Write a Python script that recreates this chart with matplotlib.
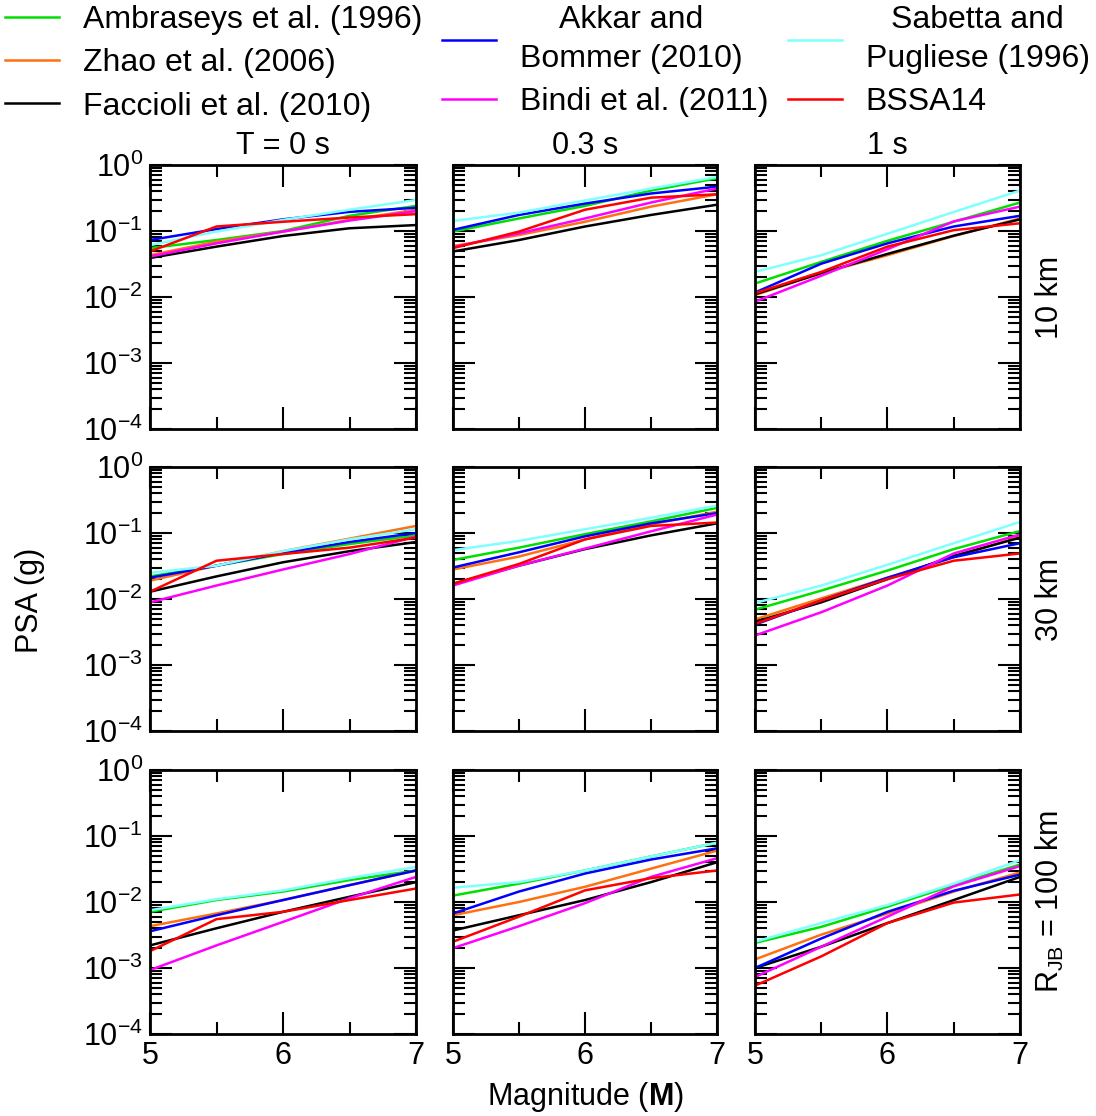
import matplotlib
matplotlib.use("Agg")
import matplotlib.pyplot as plt
from matplotlib.ticker import LogLocator, FixedLocator, NullFormatter, LogFormatterMathtext
import numpy as np

plt.rcParams['font.family'] = 'Liberation Sans'
plt.rcParams['mathtext.fontset'] = 'custom'
plt.rcParams['mathtext.rm'] = 'Liberation Sans'
plt.rcParams['mathtext.it'] = 'Liberation Sans:italic'
plt.rcParams['mathtext.bf'] = 'Liberation Sans:bold'

# magnitudes at which each curve was read
mags = [5, 5.5, 6, 6.5, 7]

# PSA (g) per panel: rows 10, 30, 100 km ; columns T = 0, 0.3, 1 s
ambraseys = [[0.055, 0.073, 0.10, 0.17, 0.24],
             [0.098, 0.155, 0.24, 0.41, 0.63],
             [0.016, 0.034, 0.071, 0.138, 0.27],
             [0.022, 0.032, 0.048, 0.068, 0.092],
             [0.039, 0.06, 0.096, 0.15, 0.24],
             [0.0069, 0.0134, 0.027, 0.057, 0.107],
             [0.0071, 0.0107, 0.0144, 0.0215, 0.030],
             [0.0125, 0.019, 0.03, 0.049, 0.079],
             [0.0024, 0.0042, 0.0085, 0.018, 0.037]]
zhao = [[0.043, 0.069, 0.098, 0.147, 0.21],
        [0.059, 0.087, 0.138, 0.234, 0.36],
        [0.0107, 0.023, 0.043, 0.084, 0.155],
        [0.019, 0.032, 0.053, 0.082, 0.128],
        [0.028, 0.044, 0.08, 0.135, 0.21],
        [0.0049, 0.0102, 0.021, 0.043, 0.088],
        [0.0043, 0.0067, 0.0107, 0.018, 0.030],
        [0.0063, 0.010, 0.017, 0.032, 0.060],
        [0.00135, 0.0032, 0.0067, 0.0144, 0.028]]
faccioli = [[0.039, 0.058, 0.084, 0.11, 0.123],
            [0.049, 0.073, 0.117, 0.175, 0.25],
            [0.011, 0.023, 0.045, 0.085, 0.15],
            [0.0129, 0.022, 0.036, 0.053, 0.073],
            [0.017, 0.032, 0.057, 0.092, 0.14],
            [0.0045, 0.0089, 0.020, 0.045, 0.085],
            [0.0022, 0.004, 0.0071, 0.012, 0.020],
            [0.0037, 0.0063, 0.0107, 0.020, 0.040],
            [0.001, 0.0021, 0.0048, 0.0107, 0.024]]
akkar = [[0.073, 0.107, 0.15, 0.195, 0.225],
         [0.104, 0.175, 0.26, 0.37, 0.47],
         [0.0117, 0.032, 0.065, 0.117, 0.17],
         [0.021, 0.032, 0.05, 0.073, 0.10],
         [0.030, 0.051, 0.089, 0.14, 0.20],
         [0.0041, 0.0095, 0.021, 0.043, 0.07],
         [0.0036, 0.0063, 0.0107, 0.018, 0.030],
         [0.0067, 0.0144, 0.027, 0.044, 0.065],
         [0.001, 0.0028, 0.0071, 0.0148, 0.026]]
bindi = [[0.041, 0.065, 0.098, 0.144, 0.20],
         [0.057, 0.092, 0.155, 0.27, 0.44],
         [0.0085, 0.021, 0.053, 0.14, 0.234],
         [0.0089, 0.016, 0.028, 0.048, 0.088],
         [0.016, 0.032, 0.058, 0.106, 0.19],
         [0.0028, 0.0063, 0.016, 0.049, 0.095],
         [0.00093, 0.0022, 0.005, 0.0114, 0.024],
         [0.002, 0.0043, 0.0096, 0.024, 0.046],
         [0.00073, 0.0021, 0.006, 0.0173, 0.035]]
sabetta = [[0.061, 0.098, 0.147, 0.21, 0.295],
           [0.142, 0.19, 0.29, 0.44, 0.66],
           [0.024, 0.043, 0.091, 0.194, 0.41],
           [0.025, 0.032, 0.053, 0.08, 0.114],
           [0.055, 0.076, 0.114, 0.17, 0.26],
           [0.0087, 0.016, 0.033, 0.07, 0.147],
           [0.0075, 0.011, 0.015, 0.023, 0.034],
           [0.0165, 0.020, 0.030, 0.049, 0.079],
           [0.0025, 0.0048, 0.009, 0.019, 0.043]]
bssa14 = [[0.049, 0.117, 0.138, 0.16, 0.18],
          [0.055, 0.098, 0.21, 0.32, 0.36],
          [0.0114, 0.024, 0.058, 0.103, 0.131],
          [0.0129, 0.038, 0.048, 0.06, 0.085],
          [0.017, 0.034, 0.08, 0.128, 0.144],
          [0.0042, 0.0095, 0.02, 0.038, 0.049],
          [0.0018, 0.0055, 0.0071, 0.0107, 0.016],
          [0.0025, 0.006, 0.015, 0.023, 0.030],
          [0.00054, 0.0015, 0.0048, 0.0098, 0.013]]

models = [ambraseys, zhao, faccioli, akkar, bindi, sabetta, bssa14]
names = ["Ambraseys et al. (1996)", "Zhao et al. (2006)", "Faccioli et al. (2010)",
         "Akkar and\nBommer (2010)", "Bindi et al. (2011)",
         "Sabetta and\nPugliese (1996)", "BSSA14"]
colors = ["#00e000", "#ff7010", "#000000", "#0000ff", "#ff00ff", "#80ffff", "#ff0000"]

col_titles = ["T = 0 s", "0.3 s", "1 s"]
row_titles = ["10 km", "30 km", r"R$_{\mathregular{JB}}$ = 100 km"]

W, H = 1096, 1116
fig = plt.figure(figsize=(W / 100, H / 100), dpi=100)

lefts = [150, 453, 755]
widths = [266, 264, 265]
tops = [165, 467, 770]
ph = 264

fs = 22
handles = []
for r in range(3):
    for c in range(3):
        ax = fig.add_axes([lefts[c] / W, 1 - (tops[r] + ph) / H, widths[c] / W, ph / H])
        k = r * 3 + c
        for m, model in enumerate(models):
            ln, = ax.plot(mags, model[k], color=colors[m], lw=1.8)
            if k == 0:
                handles.append(ln)
        ax.set_yscale('log')
        ax.set_ylim(1e-4, 1)
        ax.set_xlim(5, 7)
        ax.xaxis.set_major_locator(FixedLocator([5, 6, 7]))
        ax.xaxis.set_minor_locator(FixedLocator([5.5, 6.5]))
        ax.yaxis.set_major_locator(LogLocator(base=10, numticks=10))
        ax.yaxis.set_minor_locator(LogLocator(base=10, subs=np.arange(2, 10), numticks=20))
        ax.yaxis.set_minor_formatter(NullFormatter())
        ax.tick_params(which='both', direction='in', top=True, right=True, width=1.5,
                       labelsize=fs, pad=5)
        ax.tick_params(which='major', length=16)
        ax.tick_params(which='minor', length=8.5)
        for s in ax.spines.values():
            s.set_linewidth(2)
        if c == 0:
            ax.yaxis.set_major_formatter(LogFormatterMathtext())
        else:
            ax.set_yticklabels([])
        if r < 2:
            ax.set_xticklabels([])
        if r == 0:
            ax.set_title(col_titles[c], fontsize=fs, pad=8)
        if c == 2:
            fig.text(1050 / W, 1 - (tops[r] + ph / 2) / H, row_titles[r], rotation=90,
                     ha='center', va='center', fontsize=fs)

fig.text(30 / W, 1 - 600 / H, "PSA (g)", rotation=90, ha='center', va='center', fontsize=fs)
fig.text(585 / W, 1 - 1097 / H, r"Magnitude ($\mathbf{M}$)", ha='center', va='center', fontsize=fs)

leg = fig.legend(handles, names, loc='upper left', bbox_to_anchor=(0.0, 1.0), ncol=3,
                 frameon=False, fontsize=23, handlelength=1.7, handletextpad=0.75,
                 columnspacing=0.6, labelspacing=0.42, borderaxespad=0.0, borderpad=0.15)
leg._legend_handle_box.align = "top"
for t in leg.get_texts():
    t.set_multialignment('center')
    t.set_linespacing(1.4)

fig.savefig("out.png", dpi=100)
